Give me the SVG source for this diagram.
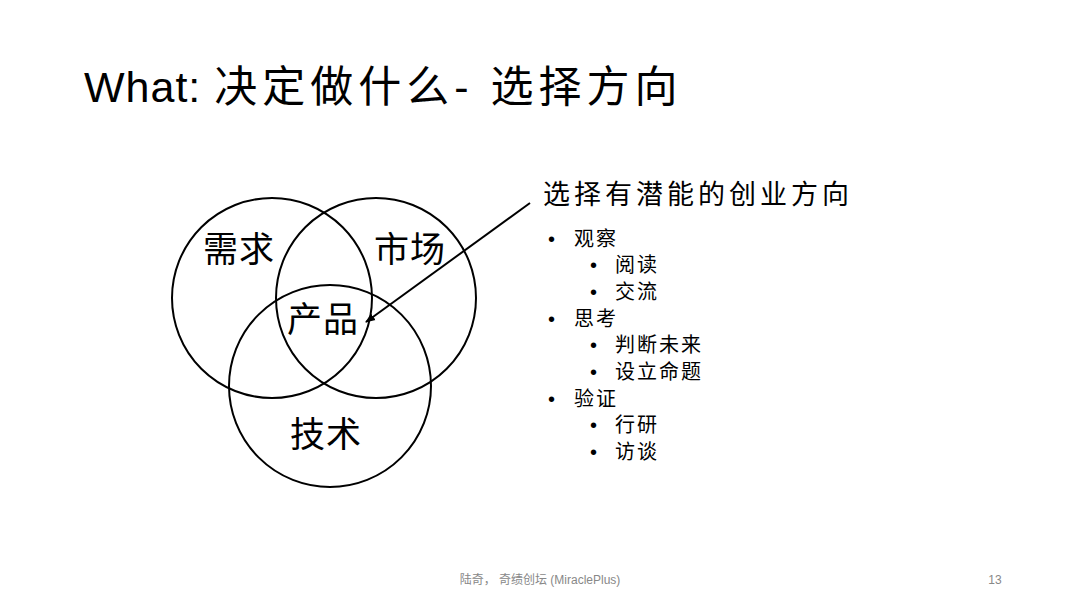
<svg xmlns="http://www.w3.org/2000/svg" width="1080" height="608" viewBox="0 0 1080 608">
<style>
.c{fill:none;stroke:#000;stroke-width:2}
.t{font-family:"Liberation Sans","Noto Sans CJK SC",sans-serif;fill:#000}
.v{font-size:35px;letter-spacing:1px}
.b{font-size:20px;letter-spacing:2px}
</style>
<defs><marker id="a" markerWidth="10" markerHeight="10" refX="9" refY="5" orient="auto" markerUnits="userSpaceOnUse"><path d="M0,1L10,5L0,9z" fill="#000"/></marker></defs>
<rect width="1080" height="608" fill="#fff"/>
<text class="t" x="84" y="102" font-size="43" letter-spacing="1">What: <tspan letter-spacing="5">决定做什么- 选择方向</tspan></text>
<g id="venn">
<circle class="c" cx="272" cy="298" r="100"/>
<circle class="c" cx="376" cy="298" r="100"/>
<circle class="c" cx="330" cy="386" r="101"/>
</g>
<g id="n1"><text class="t v" x="203" y="262">需求</text></g>
<g id="n2"><text class="t v" x="374" y="262">市场</text></g>
<g id="n3"><text class="t v" x="287" y="332">产品</text></g>
<g id="n4"><text class="t v" x="290" y="447">技术</text></g>
<g id="connectors"><line x1="530" y1="203" x2="366" y2="322" stroke="#000" stroke-width="2" marker-end="url(#a)"/></g>
<g id="list" class="t b">
<text x="543" y="204" font-size="27" letter-spacing="4">选择有潜能的创业方向</text>
<text x="548" y="246">•</text><text x="574" y="246">观察</text>
<text x="590" y="272">•</text><text x="615" y="272">阅读</text>
<text x="590" y="299">•</text><text x="615" y="299">交流</text>
<text x="548" y="326">•</text><text x="574" y="326">思考</text>
<text x="590" y="352">•</text><text x="615" y="352">判断未来</text>
<text x="590" y="379">•</text><text x="615" y="379">设立命题</text>
<text x="548" y="406">•</text><text x="574" y="406">验证</text>
<text x="590" y="432">•</text><text x="615" y="432">行研</text>
<text x="590" y="459">•</text><text x="615" y="459">访谈</text>
</g>
<text class="t" x="540" y="584" font-size="12" text-anchor="middle" style="fill:#888">陆奇， 奇绩创坛 (MiraclePlus)</text>
<text class="t" x="995" y="584" font-size="12" text-anchor="middle" style="fill:#888">13</text>
</svg>
